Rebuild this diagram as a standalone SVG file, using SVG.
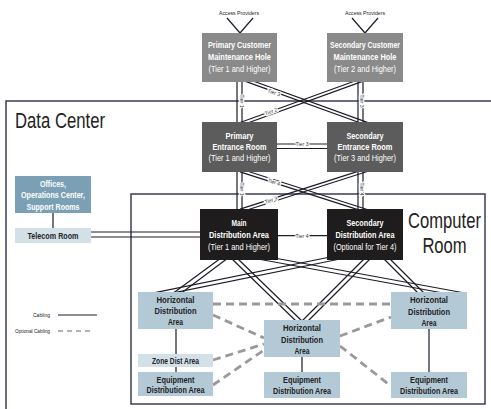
<svg xmlns="http://www.w3.org/2000/svg" width="491" height="409" viewBox="0 0 491 409">
<style>
text{font-family:"Liberation Sans",Arial,sans-serif;text-anchor:middle}
.b{font-weight:bold;font-size:8.3px}
.n{font-size:8.3px}
.w{fill:#fff}
.d{fill:#222}
.lab{font-size:5.5px;fill:#333;stroke:#fff;stroke-width:2.2px;paint-order:stroke}
.big{font-size:22px;fill:#222;text-anchor:start}
.big2{font-size:16.6px;fill:#222}
.c{stroke:#1c1c28;stroke-width:1.2;fill:none}
.opt{stroke:#999;stroke-width:2.8;stroke-dasharray:8 5;fill:none}
.border{fill:none;stroke:#2e3048;stroke-width:1.4}
.mh{fill:#8a8a8a}
.er{fill:#5c5c5c}
.da{fill:#1e1c1c}
.off{fill:#7b9fb4}
.lt{fill:#d3e0e8}
.hd{fill:#b3c9d6}
.sm{font-size:5.5px;fill:#222}
</style>
<g id="borders">
<rect class="border" x="6" y="101" width="495" height="320"/>
<rect class="border" x="131" y="194" width="354" height="210"/>
<text class="big" x="15" y="128" textLength="90" lengthAdjust="spacingAndGlyphs">Data Center</text>
<text class="big2" transform="translate(444.5,228) scale(1,1.33)">Computer</text>
<text class="big2" transform="translate(444.5,253) scale(1,1.33)">Room</text>
</g>
<g id="connectors">
<path class="c" d="M227,18L240,33L253,18M352,18L365,33L378,18"/>
<path class="c" d="M237,82V122M242,82V122M358,82V122M363,82V122"/>
<path class="c" d="M240,76.2L368,122.6M240,79.4L368,125.8"/>
<path class="c" d="M236,124L368,76.2M236,127.2L368,79.4"/>
<path class="c" d="M277,144H327M277,148.5H327"/>
<path class="c" d="M237,172V209M242,172V209M358,172V209M363,172V209"/>
<path class="c" d="M240,168.7L368,209.7M240,171.9L368,212.9"/>
<path class="c" d="M240,209.1L368,168.1M240,212.3L368,171.3"/>
<path class="c" d="M278,235.7H327"/>
<path class="c" d="M91,232H200M91,237H200"/>
<path class="c" d="M53,213V228"/>
<path class="c" d="M221,258L172,294M228,258L180,294"/>
<path class="c" d="M231,258L297,322M237,258L303,322"/>
<path class="c" d="M365,258L301,322M371,258L307,322"/>
<path class="c" d="M383,258L419,294M389,258L425,294"/>
<path class="c" d="M258,255L462,292.5M258,259L462,296.5"/>
<path class="c" d="M340,255L150,293.6M340,259L150,297.6"/>
<path class="c" d="M176,329V354M176,367V372M302,357V372M429,329V372"/>
<path class="opt" d="M213,304H391M213,315L264,338M213,360L264,344M213,385L264,350M340,336L391,317M340,346L391,386"/>
<path class="c" d="M58,315H97"/>
<path class="opt" d="M58,331H92" style="stroke-width:1.5;stroke-dasharray:5 4"/>
<text class="lab" transform="translate(241.5,101) rotate(90)" y="2" textLength="13" lengthAdjust="spacingAndGlyphs">Tier 1</text>
<text class="lab" transform="translate(362,101) rotate(90)" y="2" textLength="13" lengthAdjust="spacingAndGlyphs">Tier 3</text>
<text class="lab" transform="translate(274,92.5) rotate(19.9)" y="2" textLength="13" lengthAdjust="spacingAndGlyphs">Tier 3</text>
<text class="lab" transform="translate(271,111.4) rotate(-19.9)" y="2" textLength="13" lengthAdjust="spacingAndGlyphs">Tier 2</text>
<text class="lab" x="302" y="146" textLength="13" lengthAdjust="spacingAndGlyphs">Tier 3</text>
<text class="lab" transform="translate(241.5,189) rotate(90)" y="2" textLength="13" lengthAdjust="spacingAndGlyphs">Tier 1</text>
<text class="lab" transform="translate(362,189) rotate(90)" y="2" textLength="13" lengthAdjust="spacingAndGlyphs">Tier 4</text>
<text class="lab" transform="translate(274,182) rotate(17.7)" y="2" textLength="13" lengthAdjust="spacingAndGlyphs">Tier 4</text>
<text class="lab" transform="translate(271,200) rotate(-17.7)" y="2" textLength="13" lengthAdjust="spacingAndGlyphs">Tier 3</text>
<text class="lab" x="302" y="237.7" textLength="13" lengthAdjust="spacingAndGlyphs">Tier 4</text>
</g>
<g id="access-primary"><text class="sm" x="239" y="15" textLength="40" lengthAdjust="spacingAndGlyphs">Access Providers</text></g>
<g id="access-secondary"><text class="sm" x="365" y="15" textLength="40" lengthAdjust="spacingAndGlyphs">Access Providers</text></g>
<g id="mh-primary">
<rect class="mh" x="202" y="33" width="75" height="49"/>
<text class="b w" x="239.5" y="48" textLength="63" lengthAdjust="spacingAndGlyphs">Primary Customer</text>
<text class="b w" x="239.5" y="60" textLength="63" lengthAdjust="spacingAndGlyphs">Maintenance Hole</text>
<text class="n w" x="239.5" y="71.5" textLength="62" lengthAdjust="spacingAndGlyphs">(Tier 1 and Higher)</text>
</g>
<g id="mh-secondary">
<rect class="mh" x="327" y="33" width="76" height="49"/>
<text class="b w" x="365" y="48" textLength="70" lengthAdjust="spacingAndGlyphs">Secondary Customer</text>
<text class="b w" x="365" y="60" textLength="63" lengthAdjust="spacingAndGlyphs">Maintenance Hole</text>
<text class="n w" x="365" y="71.5" textLength="62" lengthAdjust="spacingAndGlyphs">(Tier 2 and Higher)</text>
</g>
<g id="er-primary">
<rect class="er" x="202" y="122" width="75" height="50"/>
<text class="b w" x="239.5" y="138.5" textLength="28" lengthAdjust="spacingAndGlyphs">Primary</text>
<text class="b w" x="239.5" y="150" textLength="54" lengthAdjust="spacingAndGlyphs">Entrance Room</text>
<text class="n w" x="239.5" y="161" textLength="62" lengthAdjust="spacingAndGlyphs">(Tier 1 and Higher)</text>
</g>
<g id="er-secondary">
<rect class="er" x="327" y="122" width="76" height="50"/>
<text class="b w" x="365" y="138.5" textLength="37" lengthAdjust="spacingAndGlyphs">Secondary</text>
<text class="b w" x="365" y="150" textLength="55" lengthAdjust="spacingAndGlyphs">Entrance Room</text>
<text class="n w" x="365" y="161" textLength="62" lengthAdjust="spacingAndGlyphs">(Tier 3 and Higher)</text>
</g>
<g id="mda">
<rect class="da" x="200" y="209" width="78" height="51"/>
<text class="b w" x="239" y="225.5" textLength="15" lengthAdjust="spacingAndGlyphs">Main</text>
<text class="b w" x="239" y="238" textLength="60" lengthAdjust="spacingAndGlyphs">Distribution Area</text>
<text class="n w" x="239" y="250" textLength="62" lengthAdjust="spacingAndGlyphs">(Tier 1 and Higher)</text>
</g>
<g id="sda">
<rect class="da" x="327" y="209" width="76" height="51"/>
<text class="b w" x="365" y="225.5" textLength="37" lengthAdjust="spacingAndGlyphs">Secondary</text>
<text class="b w" x="365" y="238" textLength="59" lengthAdjust="spacingAndGlyphs">Distribution Area</text>
<text class="n w" x="365" y="250" textLength="63" lengthAdjust="spacingAndGlyphs">(Optional for Tier 4)</text>
</g>
<g id="offices">
<rect class="off" x="15" y="176" width="76" height="37"/>
<text class="b w" x="53" y="186.5" textLength="26" lengthAdjust="spacingAndGlyphs">Offices,</text>
<text class="b w" x="53" y="198" textLength="64" lengthAdjust="spacingAndGlyphs">Operations Center,</text>
<text class="b w" x="53" y="209.5" textLength="53" lengthAdjust="spacingAndGlyphs">Support Rooms</text>
</g>
<g id="telecom">
<rect class="lt" x="15" y="228" width="76" height="15"/>
<text class="b d" x="53" y="238.5" textLength="51" lengthAdjust="spacingAndGlyphs">Telecom Room</text>
</g>
<g id="hda-left">
<rect class="hd" x="138" y="292" width="75" height="37"/>
<text class="b d" x="175.5" y="303" textLength="38" lengthAdjust="spacingAndGlyphs">Horizontal</text>
<text class="b d" x="175.5" y="314" textLength="42" lengthAdjust="spacingAndGlyphs">Distribution</text>
<text class="b d" x="175.5" y="325" textLength="15" lengthAdjust="spacingAndGlyphs">Area</text>
</g>
<g id="zda">
<rect class="lt" x="138" y="354" width="75" height="13"/>
<text class="b d" x="175.5" y="363.5" textLength="47" lengthAdjust="spacingAndGlyphs">Zone Dist Area</text>
</g>
<g id="eda-left">
<rect class="hd" x="138" y="372" width="75" height="24"/>
<text class="b d" x="175.5" y="382.5" textLength="38" lengthAdjust="spacingAndGlyphs">Equipment</text>
<text class="b d" x="175.5" y="393" textLength="58" lengthAdjust="spacingAndGlyphs">Distribution Area</text>
</g>
<g id="hda-mid">
<rect class="hd" x="264" y="320" width="76" height="37"/>
<text class="b d" x="302" y="331" textLength="38" lengthAdjust="spacingAndGlyphs">Horizontal</text>
<text class="b d" x="302" y="342.5" textLength="42" lengthAdjust="spacingAndGlyphs">Distribution</text>
<text class="b d" x="302" y="354" textLength="15" lengthAdjust="spacingAndGlyphs">Area</text>
</g>
<g id="eda-mid">
<rect class="hd" x="264" y="372" width="76" height="26"/>
<text class="b d" x="302" y="383" textLength="38" lengthAdjust="spacingAndGlyphs">Equipment</text>
<text class="b d" x="302" y="394" textLength="58" lengthAdjust="spacingAndGlyphs">Distribution Area</text>
</g>
<g id="hda-right">
<rect class="hd" x="391" y="292" width="76" height="37"/>
<text class="b d" x="429" y="303" textLength="38" lengthAdjust="spacingAndGlyphs">Horizontal</text>
<text class="b d" x="429" y="314.5" textLength="42" lengthAdjust="spacingAndGlyphs">Distribution</text>
<text class="b d" x="429" y="325.5" textLength="15" lengthAdjust="spacingAndGlyphs">Area</text>
</g>
<g id="eda-right">
<rect class="hd" x="391" y="372" width="76" height="26"/>
<text class="b d" x="429" y="383" textLength="38" lengthAdjust="spacingAndGlyphs">Equipment</text>
<text class="b d" x="429" y="394" textLength="58" lengthAdjust="spacingAndGlyphs">Distribution Area</text>
</g>
<g id="legend">
<text class="sm" x="33" y="317" style="text-anchor:start" textLength="17" lengthAdjust="spacingAndGlyphs">Cabling</text>
<text class="sm" x="15" y="333" style="text-anchor:start" textLength="35" lengthAdjust="spacingAndGlyphs">Optional Cabling</text>
</g>
</svg>
